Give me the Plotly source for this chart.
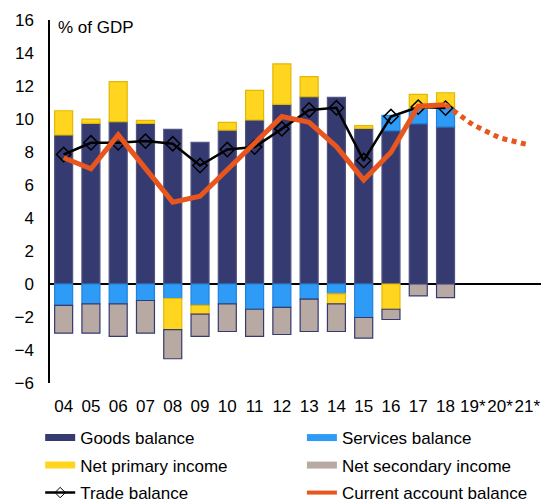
import plotly.graph_objects as go

categories = ["04", "05", "06", "07", "08", "09", "10", "11", "12", "13", "14", "15", "16", "17", "18", "19*", "20*", "21*"]
years = categories[:15]

goods = [9.03, 9.74, 9.84, 9.74, 9.37, 8.59, 9.33, 9.94, 10.89, 11.35, 11.31, 9.43, 9.29, 9.72, 9.52]
services = [-1.30, -1.20, -1.20, -1.00, -0.88, -1.30, -1.20, -1.53, -1.42, -0.92, -0.60, -2.03, 0.93, 0.90, 1.20]
primary = [1.47, 0.25, 2.42, 0.18, -1.88, -0.53, 0.47, 1.80, 2.45, 1.22, -0.60, 0.17, -1.53, 0.87, 0.87]
secondary = [-1.68, -1.78, -1.98, -1.98, -1.77, -1.35, -1.68, -1.65, -1.64, -1.96, -1.68, -1.25, -0.62, -0.72, -0.82]
trade = [7.85, 8.56, 8.56, 8.66, 8.50, 7.18, 8.15, 8.30, 9.40, 10.55, 10.68, 7.48, 10.15, 10.72, 10.66]
current = [7.65, 6.98, 9.04, 7.00, 4.96, 5.32, 6.90, 8.58, 10.15, 9.80, 8.33, 6.31, 7.99, 10.78, 10.86]
forecast_x = ["18", "19*", "20*", "21*"]
forecast = [10.86, 9.65, 8.85, 8.45]

C_GOODS = "#353a70"
C_SERV = "#2e9bf7"
C_PRIM = "#ffd520"
C_SEC = "#b8aaa2"
C_CA = "#e8561e"

FONT = "Liberation Sans, Arial, sans-serif"
FS = 17

fig = go.Figure()

bar_specs = [
    ("Goods balance", goods, C_GOODS, "#50547f"),
    ("Services balance", services, C_SERV, "#1f82dc"),
    ("Net primary income", primary, C_PRIM, "#e2b800"),
    ("Net secondary income", secondary, C_SEC, C_GOODS),
]
for name, vals, col, lc in bar_specs:
    fig.add_trace(go.Bar(x=years, y=vals, name=name, marker=dict(color=col, line=dict(color=lc, width=1.2)),
                         showlegend=False, legendgroup=name))

fig.add_trace(go.Scatter(x=years, y=trade, mode="lines+markers", name="Trade balance",
                         line=dict(color="black", width=2.5),
                         marker=dict(symbol="diamond-open", size=11, color="black", line=dict(width=1.5, color="black")),
                         showlegend=False, legendgroup="Trade balance"))
fig.add_trace(go.Scatter(x=years, y=current, mode="lines", name="Current account balance",
                         line=dict(color=C_CA, width=5), showlegend=False, legendgroup="Current account balance"))
fig.add_trace(go.Scatter(x=forecast_x, y=forecast, mode="lines", name="Current account balance (forecast)",
                         line=dict(color=C_CA, width=5, dash="5px,4.5px"), showlegend=False,
                         legendgroup="Current account balance"))

# legend entries: left column (legend) and right column (legend2)
leg = [
    ("Goods balance", dict(color=C_GOODS, width=7), None, "legend"),
    ("Net primary income", dict(color=C_PRIM, width=7), None, "legend"),
    ("Trade balance", dict(color="black", width=2.5), dict(symbol="diamond-open", size=8, color="black"), "legend"),
    ("Services balance", dict(color=C_SERV, width=7), None, "legend2"),
    ("Net secondary income", dict(color=C_SEC, width=7), None, "legend2"),
    ("Current account balance", dict(color=C_CA, width=4), None, "legend2"),
]
for name, ln, mk, lg in leg:
    fig.add_trace(go.Scatter(x=[None], y=[None], name=name, legendgroup=name, legend=lg,
                             mode="lines+markers" if mk else "lines", line=ln,
                             marker=mk if mk else None))

leg_common = dict(orientation="v", yanchor="top", xanchor="left", font=dict(size=FS),
                  traceorder="grouped", tracegroupgap=2.4, itemclick=False, itemdoubleclick=False,
                  bgcolor="rgba(0,0,0,0)")
x1 = -0.02
fig.update_layout(
    width=545, height=503,
    margin=dict(l=50, r=4, t=20, b=120, autoexpand=False),
    barmode="relative",
    bargap=0.34,
    plot_bgcolor="white", paper_bgcolor="white",
    font=dict(family=FONT, size=FS, color="black"),
    showlegend=True,
    legend=dict(x=x1, y=-0.102, **leg_common),
    legend2=dict(x=x1 + 262 / 491.5, y=-0.102, **leg_common),
    xaxis=dict(type="category", categoryorder="array", categoryarray=categories,
               range=[-0.5, 17.5], showgrid=False, showline=False, zeroline=False, automargin=False,
               tickangle=0, ticks="outside", ticklen=8, tickcolor="rgba(0,0,0,0)", tickfont=dict(size=FS)),
    yaxis=dict(range=[-6, 16], dtick=2, showgrid=False, showline=True, linecolor="black", linewidth=1.5,
               zeroline=True, zerolinecolor="black", zerolinewidth=1.5, automargin=False,
               ticks="outside", ticklen=11, tickcolor="rgba(0,0,0,0)", tickfont=dict(size=FS)),
    annotations=[dict(text="% of GDP", xref="paper", yref="paper", x=0.013, y=0.98, xanchor="left",
                      yanchor="middle", showarrow=False, font=dict(size=FS))],
)

fig.write_html("out.html", config={"displayModeBar": False},
               post_script="document.body.style.margin='0';")
